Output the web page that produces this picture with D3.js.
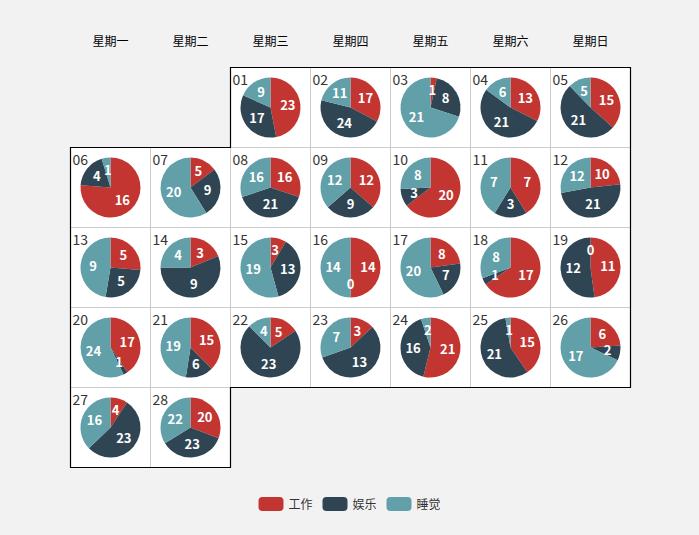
<!DOCTYPE html>
<html><head><meta charset="utf-8">
<script src="https://cdn.jsdelivr.net/npm/d3@7"></script>
<style>
html,body{margin:0;padding:0;background:#f2f2f2;}
svg{display:block;font-family:"Microsoft YaHei","Noto Sans CJK SC",sans-serif;}
</style></head><body>
<svg id="chart" width="699" height="535"></svg>
<script>
const weekdays = ["星期一","星期二","星期三","星期四","星期五","星期六","星期日"];
const seriesNames = ["工作","娱乐","睡觉"];
const colors = ["#c23531","#2f4554","#61a0a8"];
const days = ["01","02","03","04","05","06","07","08","09","10","11","12","13","14","15","16","17","18","19","20","21","22","23","24","25","26","27","28"];
const work  = [23,17,1,13,15,16,5,16,12,20,7,10,5,3,3,14,8,17,11,17,15,5,3,21,15,6,4,20];
const play  = [17,24,8,21,21,4,9,21,9,3,3,21,5,9,13,0,7,1,12,1,6,23,13,16,21,2,23,23];
const sleep = [9,11,21,6,5,1,20,16,12,8,7,12,9,4,19,14,20,8,0,24,19,4,7,2,1,17,16,22];
const firstWeekday = 2; // 2017-02-01 is Wednesday (index 2)

(function(){
const svg = d3.select("#chart");
const cell = 80, gLeft = 70.5, gTop = 67.5;
const x = d3.scaleBand().domain(d3.range(7)).range([gLeft, gLeft + 7*cell]);
const nRows = Math.ceil((firstWeekday + days.length)/7);
const y = d3.scaleBand().domain(d3.range(nRows)).range([gTop, gTop + nRows*cell]);

const data = days.map((d,i)=>{
  const k = i + firstWeekday;
  return {day:d, col:k%7, row:Math.floor(k/7), vals:[work[i],play[i],sleep[i]]};
});

svg.append("g").selectAll("text").data(weekdays).join("text")
  .attr("x",(d,i)=>x(i)+cell/2).attr("y",46)
  .attr("text-anchor","middle").attr("font-size",12).attr("fill","#000").text(d=>d);

const g = svg.append("g");
g.selectAll("rect.cell").data(data).join("rect").attr("class","cell")
  .attr("x",d=>x(d.col)).attr("y",d=>y(d.row)).attr("width",cell).attr("height",cell)
  .attr("fill","#fff").attr("stroke","#ccc").attr("stroke-width",1);

const last = data[data.length-1];
const xr = gLeft+7*cell;
const pts = [
  [x(firstWeekday), y(0)], [xr, y(0)], [xr, y(last.row)], [x(last.col)+cell, y(last.row)],
  [x(last.col)+cell, y(last.row)+cell], [gLeft, y(last.row)+cell], [gLeft, y(1)], [x(firstWeekday), y(1)]
];
svg.append("path").attr("d", d3.line()(pts)+"Z").attr("fill","none").attr("stroke","#000").attr("stroke-width",1.2);

const pie = d3.pie().sort(null).value(v=>v);
const R = 30;
const arc = d3.arc().innerRadius(0).outerRadius(R);
const labelArc = d3.arc().innerRadius(R*0.58).outerRadius(R*0.58);
const cells = svg.append("g").selectAll("g").data(data).join("g")
  .attr("transform",d=>`translate(${x(d.col)+cell/2},${y(d.row)+cell/2})`);
cells.selectAll("path").data(d=>pie(d.vals)).join("path")
  .attr("d",arc).attr("fill",(d,i)=>colors[i]);
cells.selectAll("text.lbl").data(d=>pie(d.vals)).join("text").attr("class","lbl")
  .attr("transform",d=>`translate(${labelArc.centroid(d)})`)
  .attr("text-anchor","middle").attr("dy","0.35em")
  .attr("font-size",13).attr("font-weight","bold").attr("fill","#fff")
  .text(d=>d.data);
svg.append("g").selectAll("text").data(data).join("text")
  .attr("x",d=>x(d.col)+2).attr("y",d=>y(d.row)+17)
  .attr("font-size",14).attr("fill","#333").text(d=>d.day);

const lg = svg.append("g");
const itemW = [54, 54, 54];
const gap = 10;
const totalW = d3.sum(itemW) + gap*2;
let lx = 699/2 - totalW/2;
seriesNames.forEach((n,i)=>{
  const it = lg.append("g").attr("transform",`translate(${lx},497)`);
  it.append("rect").attr("width",25).attr("height",14).attr("rx",4).attr("fill",colors[i]);
  it.append("text").attr("x",30).attr("y",11.5).attr("font-size",12).attr("fill","#333").text(n);
  lx += itemW[i] + gap;
});
})();
</script>
</body></html>
